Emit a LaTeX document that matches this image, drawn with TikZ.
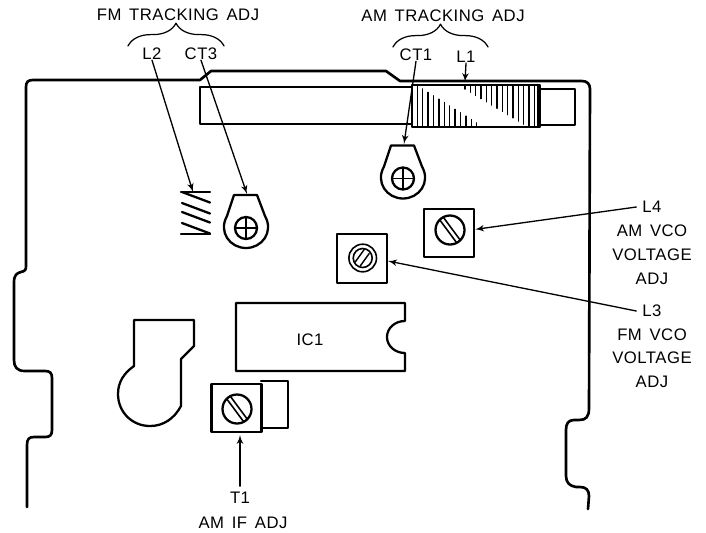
\documentclass[tikz,border=0pt]{standalone}
\usepackage{fontspec}
\setmainfont[LetterSpace=3,WordSpace=1.5]{Liberation Sans}
\usetikzlibrary{arrows,decorations.pathreplacing}
\tikzset{
  outline/.style={line width=1.5pt},
  part/.style={line width=1.3pt},
  leader/.style={line width=0.75pt,->},
  lbl/.style={inner sep=0pt,font=\fontsize{9.5}{11}\selectfont},
  farlbl/.style={lbl,outer sep=3.5pt},
  screwbox/.style={draw,part,minimum width=1cm,minimum height=0.97cm,inner sep=0pt},
  bracket/.style={line width=0.7pt,decorate,decoration={brace,amplitude=13pt,aspect=0.5}}
}

\begin{document}
\begin{tikzpicture}[line cap=round,line join=round,>=latex',x=0.02cm,y=-0.02cm]
      \useasboundingbox (0,0) rectangle (706,532);

      % board edge, left side then top then right side
      \draw[outline] (27,507) -- (27,445) .. controls (27,439) and (29,437) .. (34,437) -- (45,437)
        .. controls (50,437) and (52,435) .. (52,430) -- (52,378) .. controls (52,373) and (50,371) .. (45,371)
        -- (25,371) .. controls (17,371) and (14,367) .. (14,360) -- (14,282)
        .. controls (14,275) and (17,273) .. (21,272) .. controls (25,271) and (26,270) .. (26,266)
        -- (26,87) .. controls (26,82) and (28,80) .. (33,80) -- (200,80) -- (211,71) -- (386,71) -- (400,81)
        -- (582,81) .. controls (587,81) and (590,84) .. (590,89) -- (589,408)
        .. controls (589,417) and (586,420) .. (579,420) -- (574,420)
        .. controls (568,420) and (566,424) .. (566,430) -- (566,476)
        .. controls (566,483) and (570,486) .. (576,487) -- (580,487)
        .. controls (586,487) and (589,490) .. (589,496) -- (588,509);

      % rod and coil
      \draw[part] (411,87) -- (200,87) -- (200,124) -- (411,124);
      \draw[part] (540,89) -- (575,89) -- (575,125) -- (540,125);
      \draw[outline] (412,85) rectangle (540,127);
      \foreach \x in {417.5,529,534.5,538}{
        \draw[line width=0.9pt] (\x,85) -- (\x,127);
      }
      \foreach \i in {0,...,10}{
        \draw[line width=0.9pt] (422.7+5.4*\i,89+3.4*\i) -- (422.7+5.4*\i,127);
      }
      \foreach \i in {0,...,11}{
        \draw[line width=0.9pt] (465+5.33*\i,85) -- (465+5.33*\i,89+3.2*\i);
      }

      % L2
      \draw[part] (181,192) -- (210,192);
      \draw[part] (181,234) -- (210,234);
      \foreach \y in {192,203,212,223}{
        \draw[part] (182,\y) -- (210,\y+10.5);
      }

      % trimmers CT3 and CT1
      \foreach \cx/\cy in {246/228,403/178.5}{
        \begin{scope}[shift={(\cx,\cy)}]
          \draw[part] (-12,-33) -- (11,-33) -- (19,-12) .. controls (28,4) and (16,20) .. (0,20)
            .. controls (-16,20) and (-28,4) .. (-19,-12) -- cycle;
          \draw[part] (0,0) circle (11);
          \draw[line width=0.9pt] (-11,0) -- (11,0);
          \draw[line width=0.9pt] (0,-11) -- (0,11);
        \end{scope}
      }

      % L4, L3 and T1 cans
      \node[screwbox] (lfourbox) at (449,233) {};
      \node[screwbox] (lthreebox) at (362,258.5) {};
      \node[screwbox] (tonebox) at (236.5,408) {};
      \draw[part] (261,381) -- (288,381) -- (288,428) -- (261,428);
      \foreach \cx/\cy in {450/230,237/409}{
        \begin{scope}[shift={(\cx,\cy)}]
          \draw[part] (0,0) circle (14.5);
          \draw[line width=0.9pt] (-6.2,-12.1) -- (9.8,9.5);
          \draw[line width=0.9pt] (-9.8,-9.5) -- (6.2,12.1);
        \end{scope}
      }
      \begin{scope}[shift={(362.7,258)}]
        \draw[line width=0.9pt] (0,0) circle (13.8);
        \draw[line width=0.9pt] (0,0) circle (9.5);
        \draw[line width=0.8pt] (-7.5,4) -- (1.5,-8.5);
        \draw[line width=0.8pt] (-2.5,8) -- (6.5,-4.5);
      \end{scope}

      % IC1 and the round part beside it
      \draw[part] (236,303) -- (405,303) -- (405,321) .. controls (395,321) and (387,328) .. (387,337)
        .. controls (387,346) and (395,353) .. (405,353) -- (405,371) -- (236,371) -- cycle;
      \node[lbl] (icone) at (310,340) {IC1};
      \draw[part] (134,320) -- (194,320) -- (194,346) -- (181,359) -- (181,406)
        .. controls (174,419) and (163,426) .. (150,426) .. controls (132,426) and (118,412) .. (118,394)
        .. controls (118,382) and (124,373) .. (134,366) -- cycle;

      % labels
      \node[lbl] (fmadj) at (178,15) {FM TRACKING ADJ};
      \node[lbl] (amadj) at (443,16) {AM TRACKING ADJ};
      \node[lbl] (ltwo) at (152,54) {L2};
      \node[lbl] (ctthree) at (201,54) {CT3};
      \node[lbl] (ctone) at (416,55) {CT1};
      \node[lbl] (lone) at (466,57) {L1};
      \node[farlbl] (lfour) at (652,207) {L4};
      \node[lbl] (lfoura) at (652,231) {AM VCO};
      \node[lbl] (lfourb) at (652,255) {VOLTAGE};
      \node[lbl] (lfourc) at (652,279) {ADJ};
      \node[farlbl] (lthree) at (652,311) {L3};
      \node[lbl] (lthreea) at (652,335) {FM VCO};
      \node[lbl] (lthreeb) at (652,358) {VOLTAGE};
      \node[lbl] (lthreec) at (652,382) {ADJ};
      \node[farlbl] (tone) at (240,498) {T1};
      \node[lbl] (toneadj) at (243,523) {AM IF ADJ};

      % braces
      \coordinate (fmleft) at (128,46);
      \coordinate (fmright) at (224,46);
      \coordinate (amleft) at (393,47);
      \coordinate (amright) at (488,47);
      \draw[bracket] (fmleft) -- (fmright);
      \draw[bracket] (amleft) -- (amright);

      % leaders
      \coordinate (ltwotip) at (193,192);
      \coordinate (ctthreetip) at (247,194);
      \coordinate (ctonetip) at (404,144);
      \coordinate (lonetip) at (465,82);
      \coordinate (tonetip) at (240,435);
      \coordinate (lthreetip) at (388,261);
      \draw[leader] (ltwo.south) -- (ltwotip);
      \draw[leader] (ctthree.south) -- (ctthreetip);
      \draw[leader] (ctone.south) -- (ctonetip);
      \draw[leader] (lone.south) -- (lonetip);
      \draw[leader] (lfour.west) -- (lfourbox);
      \draw[leader] (lthree.west) -- (lthreetip);
      \draw[leader] (tone.north) -- (tonetip);
    \end{tikzpicture}
\end{document}
